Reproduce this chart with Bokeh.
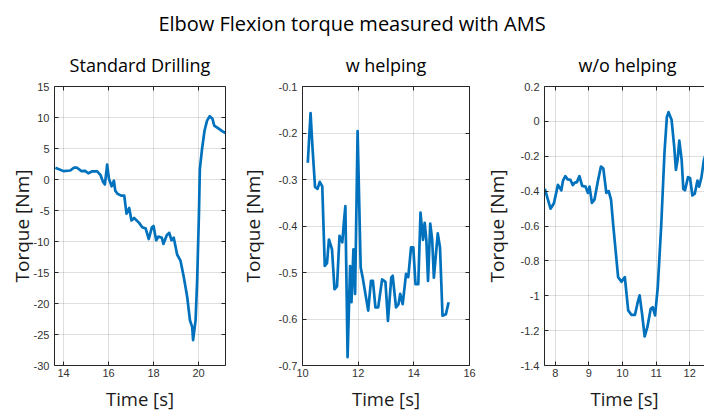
from bokeh.plotting import figure
from bokeh.models import Div, FixedTicker, Range1d, LinearAxis
from bokeh.layouts import column, row
from bokeh.embed import file_html
from bokeh.resources import INLINE

# ---------------- data ----------------
suptitle = "Elbow Flexion torque measured with AMS"
panel_titles = ["Standard Drilling", "w helping", "w/o helping"]
x_label = "Time [s]"
y_label = "Torque [Nm]"

std_time = [13.64, 14.0, 14.3, 14.46, 14.6, 14.8, 14.96, 15.1, 15.26, 15.5, 15.64, 15.76, 15.84, 15.94,
            16.02, 16.14, 16.24, 16.3, 16.4, 16.56, 16.7, 16.8, 16.92, 17.02, 17.14, 17.36, 17.5, 17.65,
            17.79, 17.93, 18.0, 18.12, 18.22, 18.37, 18.44, 18.59, 18.7, 18.8, 18.9, 19.05, 19.2, 19.35,
            19.5, 19.62, 19.72, 19.76, 19.87, 19.94, 20.02, 20.06, 20.16, 20.27, 20.38, 20.5, 20.62, 20.7,
            20.9, 21.05, 21.2]
std_torque = [1.9, 1.35, 1.45, 1.9, 1.9, 1.35, 1.4, 1.0, 1.3, 1.3, 0.75, -0.4, -0.8, 2.4,
              0.1, -1.1, -0.2, -1.8, -2.3, -2.6, -2.6, -5.5, -4.6, -6.6, -6.2, -7.0, -7.7, -7.9,
              -9.6, -7.7, -7.5, -9.8, -9.2, -9.4, -10.4, -9.0, -8.6, -9.8, -9.4, -12.1, -13.1, -15.8,
              -19.0, -22.7, -23.8, -25.9, -22.7, -16.3, -5.5, 1.7, 5.0, 7.9, 9.5, 10.2, 9.8, 8.7,
              8.2, 7.8, 7.5]

wh_time = [10.19, 10.29, 10.36, 10.45, 10.54, 10.62, 10.71, 10.8, 10.88, 10.95, 11.06, 11.15, 11.24,
           11.33, 11.43, 11.49, 11.54, 11.62, 11.71, 11.76, 11.83, 11.89, 11.98, 12.09, 12.16, 12.26,
           12.36, 12.46, 12.53, 12.62, 12.72, 12.86, 12.98, 13.07, 13.19, 13.24, 13.36, 13.45, 13.51,
           13.6, 13.72, 13.8, 13.9, 13.98, 14.06, 14.16, 14.24, 14.33, 14.39, 14.45, 14.51, 14.59,
           14.66, 14.72, 14.86, 14.94, 15.03, 15.15, 15.25]
wh_torque = [-0.264, -0.157, -0.232, -0.316, -0.32, -0.305, -0.315, -0.486, -0.48, -0.429, -0.45, -0.536,
             -0.53, -0.421, -0.435, -0.39, -0.357, -0.682, -0.486, -0.564, -0.45, -0.546, -0.196, -0.489,
             -0.51, -0.546, -0.582, -0.518, -0.518, -0.575, -0.575, -0.515, -0.52, -0.604, -0.511, -0.507,
             -0.575, -0.568, -0.546, -0.568, -0.503, -0.51, -0.446, -0.446, -0.525, -0.525, -0.371, -0.43,
             -0.393, -0.43, -0.518, -0.395, -0.43, -0.511, -0.416, -0.446, -0.593, -0.59, -0.564]

wo_time = [7.69, 7.76, 7.86, 7.96, 8.08, 8.18, 8.23, 8.3, 8.37, 8.45, 8.52, 8.59, 8.64, 8.72, 8.8,
           8.9, 8.97, 9.02, 9.09, 9.17, 9.27, 9.36, 9.43, 9.52, 9.59, 9.66, 9.73, 9.8, 9.87, 9.97,
           10.07, 10.17, 10.27, 10.37, 10.45, 10.51, 10.58, 10.66, 10.74, 10.84, 10.9, 10.97, 11.05,
           11.15, 11.25, 11.32, 11.37, 11.46, 11.54, 11.59, 11.64, 11.69, 11.76, 11.81, 11.86, 11.95,
           12.01, 12.08, 12.15, 12.23, 12.28, 12.35, 12.42, 12.5]
wo_torque = [-0.387, -0.435, -0.501, -0.47, -0.364, -0.395, -0.34, -0.314, -0.333, -0.335, -0.365, -0.35,
             -0.35, -0.314, -0.37, -0.374, -0.41, -0.374, -0.467, -0.447, -0.34, -0.259, -0.27, -0.41,
             -0.4, -0.45, -0.607, -0.75, -0.893, -0.92, -0.893, -1.084, -1.11, -1.11, -1.04, -0.998,
             -1.1, -1.233, -1.18, -1.075, -1.066, -1.113, -0.95, -0.607, -0.177, 0.024, 0.053, 0.01,
             -0.148, -0.278, -0.22, -0.11, -0.22, -0.387, -0.395, -0.32, -0.325, -0.425, -0.415, -0.34,
             -0.374, -0.32, -0.224, -0.17]

std_xticks = [14, 16, 18, 20]
std_yticks = [-30, -25, -20, -15, -10, -5, 0, 5, 10, 15]
std_ylabels = ["-30", "-25", "-20", "-15", "-10", "-5", "0", "5", "10", "15"]
wh_xticks = [10, 12, 14, 16]
wh_yticks = [-0.7, -0.6, -0.5, -0.4, -0.3, -0.2, -0.1]
wh_ylabels = ["-0.7", "-0.6", "-0.5", "-0.4", "-0.3", "-0.2", "-0.1"]
wo_xticks = [8, 9, 10, 11, 12]
wo_yticks = [-1.4, -1.2, -1.0, -0.8, -0.6, -0.4, -0.2, 0.0, 0.2]
wo_ylabels = ["-1.4", "-1.2", "-1", "-0.8", "-0.6", "-0.4", "-0.2", "0", "0.2"]

# ---------------- styling ----------------
LINE = "#0072BD"
AX = "#262626"
TICK_FONT = "Liberation Sans"
TEXT_FONT = "Open Sans"


def style_axis(ax, ticks, labels=None, show_labels=True):
    ax.ticker = FixedTicker(ticks=ticks)
    if labels is not None:
        ax.major_label_overrides = {t: l for t, l in zip(ticks, labels)}
    ax.major_tick_in = 4
    ax.major_tick_out = 0
    ax.minor_tick_line_color = None
    ax.major_tick_line_color = AX
    ax.axis_line_color = AX
    ax.axis_line_width = 1
    ax.major_label_text_font = TICK_FONT
    ax.major_label_text_font_size = "11px"
    if show_labels:
        ax.major_label_text_color = "#333333"
        ax.major_label_standoff = 5
    else:
        ax.major_label_text_color = None
        ax.major_label_standoff = 0


def panel(title, xs, ys, xr, yr, xticks, yticks, ylabels, width, left, right,
          ylab_standoff, right_axis=True, title_align="center", title_offset=0):
    p = figure(width=width, height=374, x_range=Range1d(*xr), y_range=Range1d(*yr),
               output_backend="svg", toolbar_location=None,
               min_border_left=left, min_border_right=right,
               min_border_top=46, min_border_bottom=49,
               x_axis_location=None, y_axis_location=None)
    p.outline_line_color = None
    p.background_fill_color = "white"
    p.border_fill_color = "white"

    bottom = LinearAxis(axis_label=x_label)
    style_axis(bottom, xticks)
    bottom.major_label_standoff = 3
    bottom.axis_label_standoff = 6
    bottom.axis_label_text_font = TEXT_FONT
    bottom.axis_label_text_font_size = "18.5px"
    bottom.axis_label_text_font_style = "normal"
    bottom.axis_label_text_color = "#1a1a1a"
    p.add_layout(bottom, "below")

    left_ax = LinearAxis(axis_label=y_label)
    style_axis(left_ax, yticks, ylabels)
    left_ax.axis_label_standoff = ylab_standoff
    left_ax.axis_label_text_font = TEXT_FONT
    left_ax.axis_label_text_font_size = "19px"
    left_ax.axis_label_text_font_style = "normal"
    left_ax.axis_label_text_color = "#1a1a1a"
    p.add_layout(left_ax, "left")

    top = LinearAxis()
    style_axis(top, xticks, show_labels=False)
    p.add_layout(top, "above")

    if right_axis:
        rax = LinearAxis()
        style_axis(rax, yticks, show_labels=False)
        p.add_layout(rax, "right")

    p.xgrid.ticker = FixedTicker(ticks=xticks)
    p.ygrid.ticker = FixedTicker(ticks=yticks)
    for g in (p.xgrid, p.ygrid):
        g.grid_line_color = AX
        g.grid_line_alpha = 0.15
        g.grid_line_width = 1

    p.title.text = title
    p.title.text_font = TEXT_FONT
    p.title.text_font_size = "18px"
    p.title.text_font_style = "normal"
    p.title.text_color = "#000000"
    p.title.align = title_align
    p.title.offset = title_offset
    p.title.standoff = 20

    p.line(xs, ys, line_color=LINE, line_width=2.7, line_join="round")
    return p


p1 = panel(panel_titles[0], std_time, std_torque, (13.6, 21.2), (-30, 15),
           std_xticks, std_yticks, std_ylabels, 236, 54, 11, -4)
p2 = panel(panel_titles[1], wh_time, wh_torque, (10, 16), (-0.7, -0.1),
           wh_xticks, wh_yticks, wh_ylabels, 244, 63, 11, 10)
p3 = panel(panel_titles[2], wo_time, wo_torque, (7.68, 12.44), (-1.4, 0.2),
           wo_xticks, wo_yticks, wo_ylabels, 224, 62, 0, 8, right_axis=False,
           title_align="left", title_offset=34)

head = Div(text=suptitle, width=704, height=40, margin=0,
           styles={"font-family": TEXT_FONT, "font-size": "20px", "text-align": "center",
                   "line-height": "48px", "color": "#000000", "width": "704px"})

layout = column(head, row(p1, p2, p3, spacing=0, margin=0), spacing=0, margin=0)

open("out.html", "w").write(file_html(layout, INLINE))
